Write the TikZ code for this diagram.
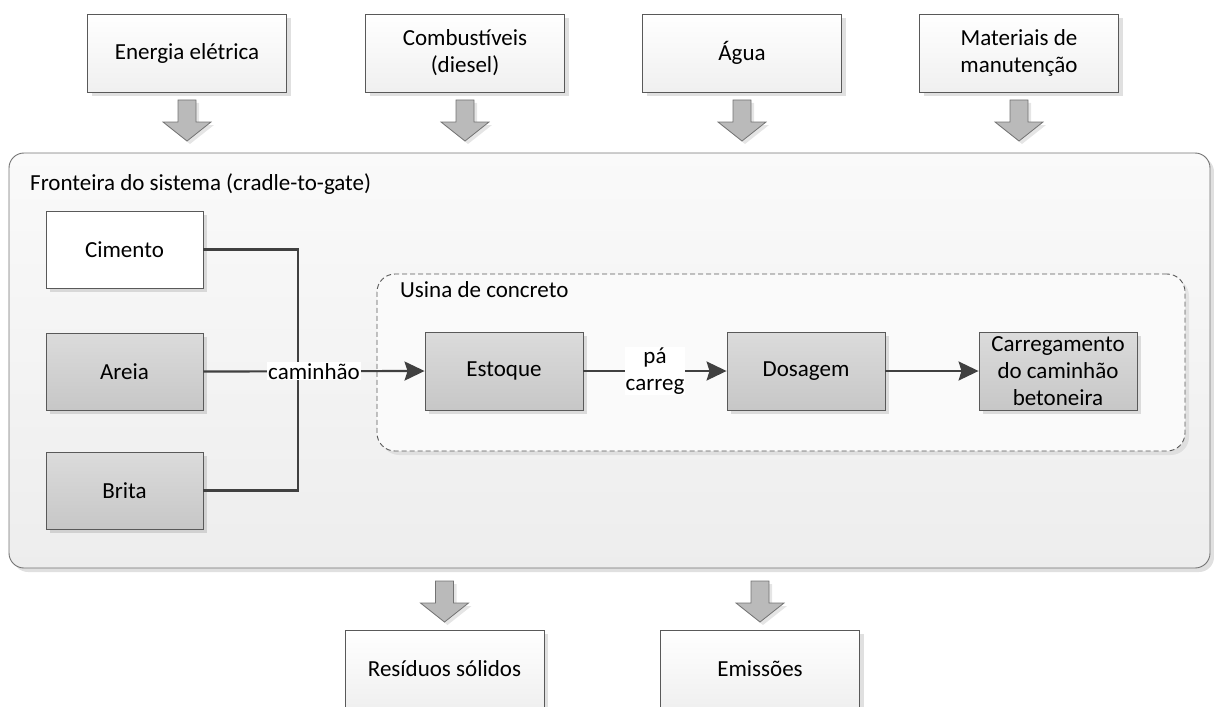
\documentclass[tikz,border=0pt]{standalone}
\usepackage{fontspec}
\setmainfont{Carlito}
\usetikzlibrary{arrows.meta,shadows}
\begin{document}
\begin{tikzpicture}[x=1pt,y=-1pt,
  every node/.style={font=\fontsize{23}{27}\selectfont, text=black},
  shad/.style={drop shadow={shadow xshift=4pt,shadow yshift=-4pt,fill=black,opacity=0.12}},
  lightbox/.style={draw=black!65, line width=0.9pt, top color=white, bottom color=black!6,
    minimum width=199pt, minimum height=78pt, inner sep=0pt, align=center, shad},
  whitebox/.style={draw=black!65, line width=0.9pt, fill=white,
    minimum width=157pt, minimum height=77pt, inner sep=0pt, align=center, shad},
  graybox/.style={draw=black!65, line width=0.9pt, top color=black!14, bottom color=black!22,
    minimum width=158pt, minimum height=78pt, inner sep=0pt, align=center, shad},
  boundary/.style={draw=black!55, line width=0.9pt, top color=black!2, bottom color=black!7,
    rounded corners=15pt, minimum width=1201pt, minimum height=415pt, inner sep=0pt, shad},
  plantbox/.style={draw=black!65, line width=0.9pt, dash pattern=on 5pt off 3pt, fill=black!2,
    rounded corners=18pt, minimum width=808pt, minimum height=177pt, inner sep=0pt,
    drop shadow={shadow xshift=4pt,shadow yshift=-4pt,fill=black,opacity=0.07}},
  blockarrow/.style={draw=black!55, line width=0.8pt, fill=black!27,
    drop shadow={shadow xshift=3pt,shadow yshift=-3pt,fill=black,opacity=0.1}},
  garrow/.pic={\draw[blockarrow] (-9,0) -- (9,0) -- (9,22) -- (24,22) -- (0,41) -- (-24,22) -- (-9,22) -- cycle;},
  conn/.style={draw=black!75, line width=2.2pt},
  connarrow/.style={conn, -{Stealth[length=20pt,width=19pt,inset=3pt]}},
  lbl/.style={fill=white, inner sep=1pt, align=center},
  title/.style={anchor=base west, inner sep=0pt}
]
\useasboundingbox (0,0) rectangle (1214,706);

% top input boxes
\node[lightbox] (ene) at (187,53) {Energia elétrica};
\node[lightbox] (com) at (465,53) {Combustíveis\\(diesel)};
\node[lightbox] (agu) at (742,53) {Água};
\node[lightbox] (mat) at (1019,53) {Materiais de\\manutenção};

\pic at (187,100) {garrow};
\pic at (465,100) {garrow};
\pic at (742,100) {garrow};
\pic at (1019,100) {garrow};

% system boundary
\node[boundary] (front) at (609.5,360.5) {};
\node[title] (fronttitle) at (30,190) {Fronteira do sistema (cradle-to-gate)};

% concrete plant
\node[plantbox] (usina) at (781,362.5) {};
\node[title] (usinatitle) at (400,297) {Usina de concreto};

% raw materials
\node[whitebox] (cim) at (124.5,249.5) {Cimento};
\node[graybox, minimum width=157pt, minimum height=77pt] (are) at (124.5,371.5) {Areia};
\node[graybox, minimum width=157pt, minimum height=77pt] (bri) at (124.5,490.5) {Brita};

% process steps
\node[graybox] (est) at (504,371) {Estoque};
\node[graybox] (dos) at (806,371) {Dosagem};
\node[graybox] (car) at (1058,371) {Carregamento\\do caminhão\\betoneira};

% connectors
\coordinate (junc) at (298,371);
\draw[conn] (cim.east) -| (junc) |- (bri.east);
\draw[connarrow] (are.east) -- node[lbl] {caminhão} (est.west);
\draw[connarrow] (est.east) -- node[lbl] {pá\\carreg} (dos.west);
\draw[connarrow] (dos.east) -- (car.west);

% outputs
\pic at (444.5,581) {garrow};
\pic at (760,581) {garrow};
\node[lightbox] (res) at (444.5,669) {Resíduos sólidos};
\node[lightbox] (emi) at (760,669) {Emissões};
\end{tikzpicture}
\end{document}
